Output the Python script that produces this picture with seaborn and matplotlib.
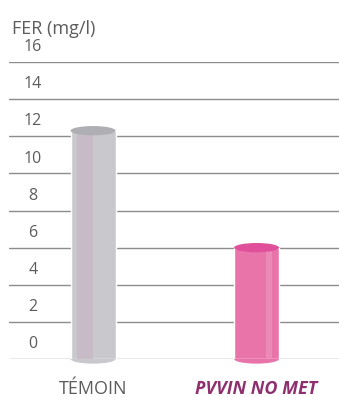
import matplotlib
matplotlib.use("Agg")
import matplotlib.pyplot as plt
from matplotlib.patches import Ellipse, Rectangle
import seaborn as sns

categories = ["TÉMOIN", "PVVIN NO MET"]
values = [12.3, 6.0]
y_ticks = [0, 2, 4, 6, 8, 10, 12, 14, 16]
y_label = "FER (mg/l)"

body_colors = ["#C9C9CD", "#E874AA"]
cap_colors = ["#AEAEB3", "#E0509A"]
strip_colors = ["#C8B2C6", "#EE98C0"]
text_gray = "#5C5C5E"
label_colors = [text_gray, "#8E2F6E"]

sns.set_theme(style="white")
plt.rcParams["font.family"] = ["Open Sans", "DejaVu Sans"]

fig = plt.figure(figsize=(3.39, 3.97), dpi=100)
ax = fig.add_axes([9/339, 1 - 359/397, 330/339, (359 - 62)/397])

sns.barplot(x=categories, y=values, hue=categories, palette=body_colors,
            width=0.275, ax=ax, legend=False, saturation=1, zorder=3)

ax.set_ylim(0, 16)
ax.set_xlim(-0.514, 1.504)
for v in y_ticks:
    ax.axhline(v, color="#8C8C8C", lw=1.0, zorder=1)
    ax.text(0.073, v + 0.8, str(v), transform=ax.get_yaxis_transform(),
            ha="center", va="center", fontsize=11.5, color=text_gray)

for i, p in enumerate(ax.patches):
    x0, w, h = p.get_x(), p.get_width(), p.get_height()
    cx = x0 + w / 2
    # bottom rounded edge
    ax.add_patch(Ellipse((cx, 0), w, 0.5, color=body_colors[i], zorder=2.9,
                         clip_on=False, lw=0))
    # highlight strip
    if i == 0:
        ax.add_patch(Rectangle((x0 + w * 0.15, 0), w * 0.35, h, color=strip_colors[i],
                               alpha=0.6, zorder=3.5, lw=0))
    else:
        ax.add_patch(Rectangle((x0 + w * 0.7, 0), w * 0.15, h, color=strip_colors[i],
                               alpha=0.6, zorder=3.5, lw=0))
    # top cap
    ax.add_patch(Ellipse((cx, h), w, 0.5, color=cap_colors[i], zorder=4,
                         clip_on=False, lw=0))

ax.set_yticks([])
ax.set_xticks(range(len(categories)))
ax.set_xticklabels(categories)
ax.tick_params(axis="x", length=0, pad=15)
for i, t in enumerate(ax.get_xticklabels()):
    t.set_color(label_colors[i])
    t.set_fontsize(13)
    if i == 1:
        t.set_fontweight("bold")
        t.set_fontstyle("italic")
ax.set_xlabel("")
ax.set_ylabel("")
for s in ax.spines.values():
    s.set_visible(False)

fig.text(12/339, 1 - 34/397, y_label, fontsize=13, color=text_gray,
         ha="left", va="baseline")

fig.savefig("out.png", dpi=100, facecolor="white")
